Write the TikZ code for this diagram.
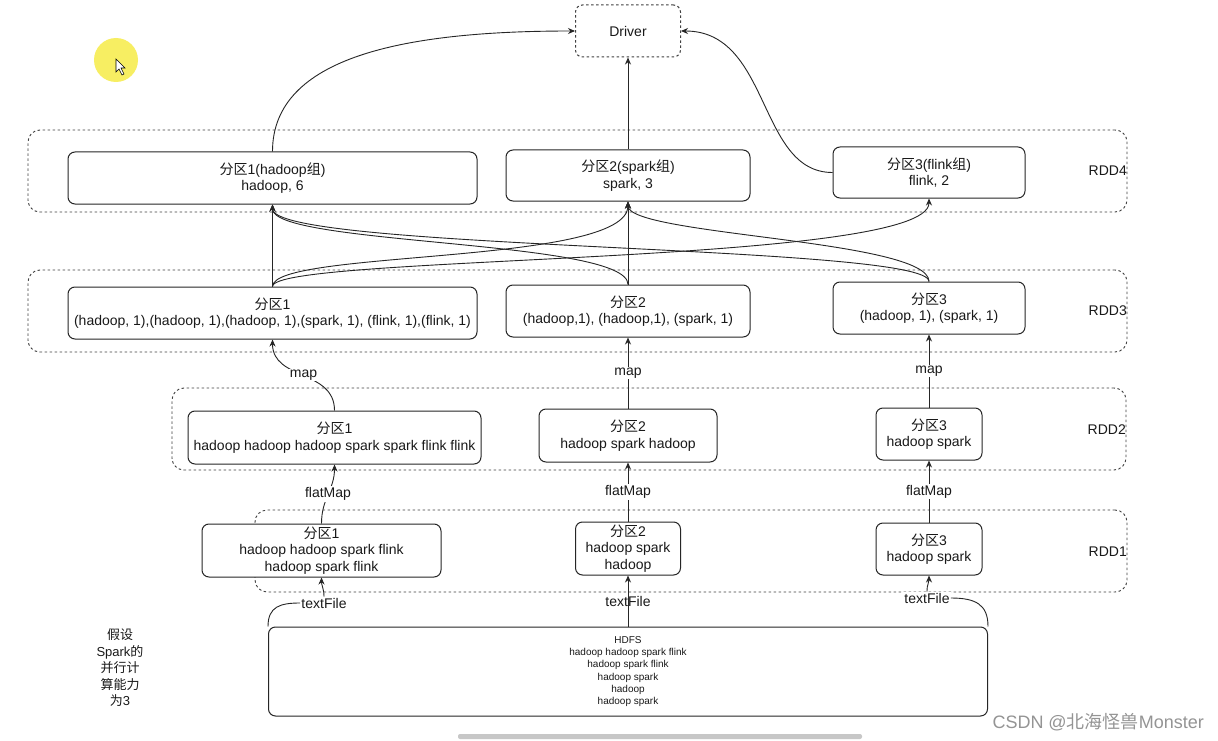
\documentclass[tikz,border=0pt]{standalone}
\usepackage{fontspec}
\setmainfont{Liberation Sans}
\newfontfamily\cjk{Noto Sans CJK SC}
\usetikzlibrary{arrows.meta}
\newcommand{\zh}[1]{{\cjk #1}}
\definecolor{hlyellow}{RGB}{247,238,98}
\begin{document}
\begin{tikzpicture}[x=1pt,y=-1pt,
  box/.style={draw=black!85, fill=white, line width=1pt, rounded corners=7pt, align=center, inner sep=0pt,
    text=black!90, font=\fontsize{14}{16.5}\selectfont},
  dbox/.style={box, dash pattern=on 2.5pt off 2.5pt, draw=black!75},
  group/.style={draw=black!75, line width=0.9pt, dash pattern=on 2.5pt off 2.5pt, rounded corners=12pt,
    inner sep=0pt, minimum height=82pt},
  arr/.style={draw=black!85, line width=0.9pt, -{Stealth[length=7pt,width=6pt]}},
  ln/.style={draw=black!85, line width=0.9pt},
  lbl/.style={fill=white, inner sep=1pt, text=black!90, font=\fontsize{14}{16}\selectfont},
  rdd/.style={anchor=east, inner sep=0pt, text=black!90, font=\fontsize{14}{16}\selectfont}]

\fill[white] (0,0) rectangle (1218,741);
\useasboundingbox (0,0) rectangle (1218,741);

% cursor highlight
\fill[hlyellow] (116,60) circle (22);
\draw[fill=white, line width=0.6pt] (116,59) -- (116,72) -- (119,69) -- (122,75) -- (124,74) -- (121,68) -- (125,68) -- cycle;

% groups
\node[group, minimum width=1099pt] (g4) at (577.5,171) {};
\node[group, minimum width=1099pt] (g3) at (577.5,311) {};
\node[group, minimum width=954pt] (g2) at (649,429) {};
\node[group, minimum width=872pt] (g1) at (691,551) {};
\node[rdd] (r4) at (1127,171) {RDD4};
\node[rdd] (r3) at (1127,311) {RDD3};
\node[rdd] (r2) at (1126,430) {RDD2};
\node[rdd] (r1) at (1127,552) {RDD1};

% driver
\node[dbox, minimum width=105pt, minimum height=52pt] (driver) at (628,31) {Driver};

% RDD4
\node[box, minimum width=409pt, minimum height=52pt] (b41) at (272.5,178) {\zh{分区}1(hadoop\zh{组})\\hadoop, 6};
\node[box, minimum width=244pt, minimum height=51pt] (b42) at (628,175.5) {\zh{分区}2(spark\zh{组})\\spark, 3};
\node[box, minimum width=192pt, minimum height=51pt] (b43) at (929,172.5) {\zh{分区}3(flink\zh{组})\\flink, 2};

% RDD3
\node[box, minimum width=409pt, minimum height=52pt] (b31) at (272.5,313) {\zh{分区}1\\(hadoop, 1),(hadoop, 1),(hadoop, 1),(spark, 1), (flink, 1),(flink, 1)};
\node[box, minimum width=244pt, minimum height=52pt] (b32) at (628,311) {\zh{分区}2\\(hadoop,1), (hadoop,1), (spark, 1)};
\node[box, minimum width=192pt, minimum height=52pt] (b33) at (929,308) {\zh{分区}3\\(hadoop, 1), (spark, 1)};

% RDD2
\node[box, minimum width=293pt, minimum height=53pt] (b21) at (334.5,437.5) {\zh{分区}1\\hadoop hadoop hadoop spark spark flink flink};
\node[box, minimum width=178pt, minimum height=53pt] (b22) at (628,435.5) {\zh{分区}2\\hadoop spark hadoop};
\node[box, minimum width=106pt, minimum height=52pt] (b23) at (929,434) {\zh{分区}3\\hadoop spark};

% RDD1
\node[box, minimum width=239pt, minimum height=53pt] (b11) at (321.5,550.5) {\zh{分区}1\\hadoop hadoop spark flink\\hadoop spark flink};
\node[box, minimum width=105pt, minimum height=53pt] (b12) at (628,548.5) {\zh{分区}2\\hadoop spark\\hadoop};
\node[box, minimum width=106pt, minimum height=52pt] (b13) at (929,549) {\zh{分区}3\\hadoop spark};

% HDFS
\node[box, minimum width=719pt, minimum height=89pt, font=\fontsize{10}{12.3}\selectfont] (hdfs) at (628,671.5)
  {HDFS\\hadoop hadoop spark flink\\hadoop spark flink\\hadoop spark\\hadoop\\hadoop spark};

% note
\node[align=center, inner sep=0pt, text=black!90, font=\fontsize{13}{16.5}\selectfont] (note) at (120,668)
  {\zh{假设}\\Spark\zh{的}\\\zh{并行计}\\\zh{算能力}\\\zh{为}3};

% to driver
\draw[arr] (b41.north) .. controls +(0,-95) and +(-170,0) .. (driver.west);
\draw[arr] (b42.north) -- (driver.south);
\draw[arr] (b43.west) .. controls +(-75,0) and +(90,0) .. (driver.east);

% RDD3 -> RDD4
\draw[arr] (b31.north) -- (b41.south);
\draw[arr] (b31.north) .. controls +(0,-37) and +(0,64) .. (b42.south);
\draw[arr] (b31.north) .. controls +(0,-32) and +(0,67) .. (b43.south);
\draw[arr] (b32.north) .. controls +(0,-45) and +(0,41) .. (b41.south);
\draw[arr] (b32.north) -- (b42.south);
\draw[arr] (b33.north) .. controls +(0,-37) and +(0,46) .. (b41.south);
\draw[arr] (b33.north) .. controls +(0,-42) and +(0,34) .. (b42.south);

% map
\draw[arr] (b21.north) .. controls +(0,-41) and +(0,41) .. node[lbl] (m1) {map} (b31.south);
\draw[arr] (b22.north) -- node[lbl] (m2) {map} (b32.south);
\draw[arr] (b23.north) -- node[lbl] (m3) {map} (b33.south);

% flatMap
\draw[arr] (b11.north) .. controls +(0,-25) and +(0,25) .. node[lbl] (f1) {flatMap} (b21.south);
\draw[arr] (b12.north) -- node[lbl] (f2) {flatMap} (b22.south);
\draw[arr] (b13.north) -- node[lbl] (f3) {flatMap} (b23.south);

% textFile
\node[lbl] (tf1) at (324,603) {textFile};
\draw[ln] (hdfs.north west) .. controls +(0,-20) and +(-20,0) .. (tf1.west);
\draw[arr] (tf1.north) .. controls +(0,-8) and +(0,8) .. (b11.south);
\draw[arr] (hdfs.north) -- node[lbl, fill=none] (tf2) {textFile} (b12.south);
\node[lbl] (tf3) at (927,598) {textFile};
\draw[ln] (hdfs.north east) .. controls +(0,-22) and +(25,0) .. (tf3.east);
\draw[arr] (tf3.north) .. controls +(0,-8) and +(0,8) .. (b13.south);

% watermark and scrollbar
\node[anchor=east, inner sep=0pt, text=black!42, font=\fontsize{18}{20}\selectfont] (wm) at (1204,722) {CSDN @\zh{北海怪兽}Monster};
\fill[black!22, rounded corners=2pt] (458,734) rectangle (862,739);
\end{tikzpicture}
\end{document}
